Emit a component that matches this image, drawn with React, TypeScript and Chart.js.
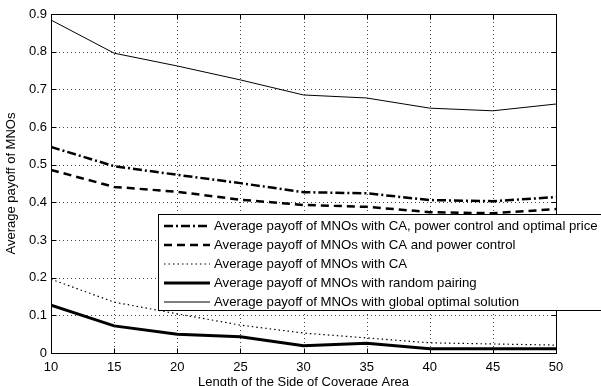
import React, { useEffect, useRef } from "react";
import { Chart, registerables } from "chart.js";

Chart.register(...registerables);

const xValues = [10, 15, 20, 25, 30, 35, 40, 45, 50];
const optimalPrice = [0.547, 0.496, 0.473, 0.451, 0.427, 0.424, 0.406, 0.403, 0.414];
const powerControl = [0.486, 0.441, 0.428, 0.407, 0.393, 0.388, 0.374, 0.371, 0.382];
const caOnly = [0.196, 0.135, 0.104, 0.074, 0.053, 0.04, 0.027, 0.024, 0.021];
const randomPairing = [0.127, 0.072, 0.05, 0.043, 0.019, 0.026, 0.011, 0.011, 0.011];
const globalOptimal = [0.884, 0.796, 0.762, 0.725, 0.685, 0.677, 0.65, 0.643, 0.661];

const xTicks = [10, 15, 20, 25, 30, 35, 40, 45, 50];
const yTicks = [0, 0.1, 0.2, 0.3, 0.4, 0.5, 0.6, 0.7, 0.8, 0.9];

const seriesLabels = [
  "Average payoff of MNOs with CA, power control and optimal price",
  "Average payoff of MNOs with CA and power control",
  "Average payoff of MNOs with CA",
  "Average payoff of MNOs with random pairing",
  "Average payoff of MNOs with global optimal solution",
];
const xTitle = "Length of the Side of Coverage Area";
const yTitle = "Average payoff of MNOs";

const FONT = "'Liberation Sans', Arial, Helvetica, sans-serif";

const styles = [
  { width: 2.5, dash: [9, 3, 2, 3] },
  { width: 2.5, dash: [8, 5] },
  { width: 1.2, dash: [1.5, 3] },
  { width: 3, dash: [] as number[] },
  { width: 1, dash: [] as number[] },
];

const seriesValues = [optimalPrice, powerControl, caOnly, randomPairing, globalOptimal];

const framePlugin = {
  id: "matlabFrame",
  beforeDatasetsDraw(chart: any) {
    const { ctx, chartArea: a, scales } = chart;
    ctx.save();
    ctx.strokeStyle = "#444";
    ctx.lineWidth = 1;
    ctx.setLineDash([1, 3]);
    xTicks.forEach((v) => {
      const px = Math.round(scales.x.getPixelForValue(v)) + 0.5;
      if (v === xTicks[0] || v === xTicks[xTicks.length - 1]) return;
      ctx.beginPath();
      ctx.moveTo(px, a.top);
      ctx.lineTo(px, a.bottom);
      ctx.stroke();
    });
    yTicks.forEach((v) => {
      const py = Math.round(scales.y.getPixelForValue(v)) + 0.5;
      if (v === yTicks[0] || v === yTicks[yTicks.length - 1]) return;
      ctx.beginPath();
      ctx.moveTo(a.left, py);
      ctx.lineTo(a.right, py);
      ctx.stroke();
    });
    ctx.restore();
  },
  afterDatasetsDraw(chart: any) {
    const { ctx, chartArea: a, scales } = chart;
    ctx.save();
    ctx.strokeStyle = "#000";
    ctx.lineWidth = 1;
    ctx.setLineDash([]);
    const L = Math.round(a.left) + 0.5;
    const R = Math.round(a.right) + 0.5;
    const T = Math.round(a.top) + 0.5;
    const B = Math.round(a.bottom) + 0.5;
    ctx.beginPath();
    ctx.rect(L, T, R - L, B - T);
    ctx.stroke();
    const tl = 5;
    ctx.beginPath();
    xTicks.forEach((v) => {
      const px = Math.round(scales.x.getPixelForValue(v)) + 0.5;
      ctx.moveTo(px, B);
      ctx.lineTo(px, B - tl);
      ctx.moveTo(px, T);
      ctx.lineTo(px, T + tl);
    });
    yTicks.forEach((v) => {
      const py = Math.round(scales.y.getPixelForValue(v)) + 0.5;
      ctx.moveTo(L, py);
      ctx.lineTo(L + tl, py);
      ctx.moveTo(R, py);
      ctx.lineTo(R - tl, py);
    });
    ctx.stroke();

    // legend
    const lx = 158.5;
    const ly = 214.5;
    const lw = 460;
    const lh = 96;
    ctx.fillStyle = "#fff";
    ctx.fillRect(lx, ly, lw, lh);
    ctx.strokeStyle = "#000";
    ctx.lineWidth = 1;
    ctx.strokeRect(lx, ly, lw, lh);
    ctx.font = `13.2px ${FONT}`;
    ctx.textBaseline = "middle";
    ctx.textAlign = "left";
    seriesLabels.forEach((label, i) => {
      const cy = 226 + i * 19;
      ctx.save();
      ctx.lineWidth = styles[i].width;
      ctx.setLineDash(styles[i].dash);
      ctx.beginPath();
      ctx.moveTo(164, cy);
      ctx.lineTo(210, cy);
      ctx.stroke();
      ctx.restore();
      ctx.fillStyle = "#000";
      ctx.fillText(label, 214, cy);
    });

    // axis titles
    ctx.font = `13px ${FONT}`;
    ctx.fillStyle = "#000";
    ctx.textAlign = "center";
    ctx.textBaseline = "alphabetic";
    ctx.fillText(xTitle, (a.left + a.right) / 2, 386);
    ctx.save();
    ctx.translate(15, (a.top + a.bottom) / 2);
    ctx.rotate(-Math.PI / 2);
    ctx.fillText(yTitle, 0, 0);
    ctx.restore();
    ctx.restore();
  },
};

export default function App() {
  const ref = useRef<HTMLCanvasElement | null>(null);
  useEffect(() => {
    document.body.style.margin = "0";
    const canvas = ref.current;
    if (!canvas) return;
    const chart = new Chart(canvas, {
      type: "line",
      data: {
        datasets: seriesValues.map((vals, i) => ({
          label: seriesLabels[i],
          data: vals.map((v, j) => ({ x: xValues[j], y: v })),
          borderColor: "#000",
          backgroundColor: "#000",
          borderWidth: styles[i].width,
          borderDash: styles[i].dash,
          pointRadius: 0,
          tension: 0,
          fill: false,
        })),
      },
      options: {
        responsive: false,
        animation: false,
        devicePixelRatio: 1,
        layout: { padding: { top: 14, right: 45, left: 0, bottom: 0 } },
        plugins: { legend: { display: false }, tooltip: { enabled: false } },
        scales: {
          x: {
            type: "linear",
            min: 10,
            max: 50,
            afterFit: (s: any) => {
              s.height = 33;
            },
            afterBuildTicks: (s: any) => {
              s.ticks = xTicks.map((v) => ({ value: v }));
            },
            ticks: {
              color: "#000",
              font: { family: FONT, size: 13 },
              padding: 7,
              maxRotation: 0,
              autoSkip: false,
              callback: (v: any) => String(v),
            },
            grid: { display: false, drawTicks: false },
            border: { display: false },
          },
          y: {
            type: "linear",
            min: 0,
            max: 0.9,
            afterFit: (s: any) => {
              s.width = 51;
            },
            afterBuildTicks: (s: any) => {
              s.ticks = yTicks.map((v) => ({ value: v }));
            },
            ticks: {
              color: "#000",
              font: { family: FONT, size: 13 },
              padding: 4,
              autoSkip: false,
              callback: (v: any) => String(Math.round(Number(v) * 10) / 10),
            },
            grid: { display: false, drawTicks: false },
            border: { display: false },
          },
        },
      },
      plugins: [framePlugin],
    } as any);
    return () => chart.destroy();
  }, []);
  return <canvas ref={ref} width={601} height={386} style={{ display: "block" }} />;
}
